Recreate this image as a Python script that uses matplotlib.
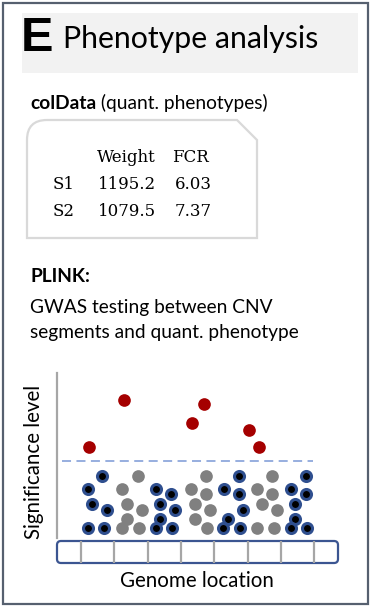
import matplotlib
matplotlib.use("Agg")
import matplotlib.pyplot as plt
from matplotlib.patches import Rectangle, FancyBboxPatch, PathPatch
from matplotlib.path import Path

# phenotype table (colData)
pheno_cols = ["Weight", "FCR"]
samples = ["S1", "S2"]
weight = ["1195.2", "1079.5"]
fcr = ["6.03", "7.37"]

# GWAS dots: genome position (segment units of 10) and significance level
sig_x = [12.4, 22.9, 43.3, 46.9, 60.4, 63.4]
sig_y = [9.4, 14.1, 11.8, 13.7, 11.1, 9.4]

cnv_x = [16.3, 12.1, 13.3, 17.8, 12.1, 16.9,
         32.5, 37.0, 33.7, 38.2, 33.7, 32.5, 37.3,
         52.9, 57.4, 57.4, 58.6, 54.1, 52.6, 57.7,
         73.0, 77.5, 77.5, 74.2, 74.2, 73.0, 77.8]
cnv_y = [6.5, 5.2, 3.7, 3.1, 1.3, 1.3,
         5.2, 4.7, 3.7, 3.1, 2.2, 1.3, 1.3,
         5.2, 6.5, 4.7, 3.1, 2.2, 1.3, 1.3,
         5.2, 6.5, 4.7, 3.7, 2.2, 1.3, 1.3]

other_x = [27.1, 22.3, 23.8, 28.3, 23.8, 22.3, 27.4,
           47.5, 43.0, 47.5, 44.2, 48.7, 44.2, 47.8,
           67.3, 62.8, 67.3, 64.3, 68.8, 62.8, 67.9]
other_y = [6.5, 5.2, 3.7, 3.1, 2.2, 1.3, 1.3,
           6.5, 5.2, 4.7, 3.7, 3.1, 2.2, 1.3,
           6.5, 5.2, 4.7, 3.7, 3.1, 1.3, 1.3]

threshold = 8.0
segment_edges = [2.8, 10, 20, 30, 40, 50, 60, 70, 80, 87.1]

W, H = 371, 610
fig = plt.figure(figsize=(W / 100, H / 100), dpi=100)

# overlay axes in pixel units for the panel decoration
ax0 = fig.add_axes([0, 0, 1, 1])
ax0.set_xlim(0, W)
ax0.set_ylim(H, 0)
ax0.axis("off")

ax0.add_patch(Rectangle((3, 3), 365, 601, fill=False, ec="#56606f", lw=1.6))
ax0.add_patch(Rectangle((22, 13), 336, 60, fc="#f2f2f2", ec="none"))
ax0.text(21, 51, "E", fontsize=35, fontweight="bold", family="Liberation Sans",
         va="baseline", ha="left")
ax0.text(63, 48, "Phenotype analysis", fontsize=21.8, family="Lato",
         va="baseline", ha="left")

body = dict(fontsize=13.8, family="Lato", va="baseline", ha="left")
t = ax0.text(30, 109, "colData", fontweight="bold", **body)
fig.canvas.draw()
bb = t.get_window_extent()
xend = ax0.transData.inverted().transform((bb.x1, bb.y0))[0]
ax0.text(xend, 109, " (quant. phenotypes)", **body)

# table box: rounded top-left, cut top-right
x0, x1, y0, y1, r, c = 27, 257, 120, 238, 20, 20
verts = [(x0, y1), (x0, y0 + r), (x0, y0), (x0 + r, y0), (x1 - c, y0),
         (x1, y0 + c), (x1, y1), (x0, y1)]
codes = [Path.MOVETO, Path.LINETO, Path.CURVE3, Path.CURVE3, Path.LINETO,
         Path.LINETO, Path.LINETO, Path.CLOSEPOLY]
ax0.add_patch(PathPatch(Path(verts, codes), fc="white", ec="#d9d9d9", lw=1.6))

tf = dict(fontsize=12, family="DejaVu Serif", va="baseline", ha="left")
ax0.text(97, 162, pheno_cols[0], **tf)
ax0.text(172, 162, pheno_cols[1], **tf)
for i, s in enumerate(samples):
    yy = 189 + 27 * i
    ax0.text(53, yy, s, **tf)
    ax0.text(98, yy, weight[i], **tf)
    ax0.text(175, yy, fcr[i], **tf)

ax0.text(30, 282, "PLINK:", fontweight="bold", **body)
ax0.text(30, 313, "GWAS testing between CNV", **body)
ax0.text(30, 338, "segments and quant. phenotype", **body)

# GWAS plot axes
ax = fig.add_axes([57 / W, 1 - 563 / H, 281 / W, 190 / H])
ax.set_xlim(segment_edges[0], segment_edges[-1])
ax.set_ylim(-2.2, 16.8)
ax.patch.set_alpha(0)
for s in ["top", "right", "bottom"]:
    ax.spines[s].set_visible(False)
ax.spines["left"].set_color("#a6a6a6")
ax.spines["left"].set_linewidth(1.6)
ax.spines["left"].set_bounds(0.3, 16.8)
ax.set_xticks([])
ax.set_yticks([])

ax.hlines(threshold, 4.3, 79.6, colors="#8fa8dc", linestyles=(0, (5, 3)), lw=1.3)
ax.scatter(other_x, other_y, s=83, c="#808080", lw=0, zorder=3)
ax.scatter(cnv_x, cnv_y, s=52, c="black", edgecolors="#2f4f8f", lw=2.2, zorder=3)
ax.scatter(sig_x, sig_y, s=83, c="#a50000", lw=0, zorder=3)

bar = FancyBboxPatch((segment_edges[0], -2.2), segment_edges[-1] - segment_edges[0], 2.2,
                     boxstyle="round,pad=0,rounding_size=1.2", mutation_aspect=0.333,
                     fc="white", ec="#3b5591", lw=1.6, clip_on=False, zorder=2)
ax.add_patch(bar)
ax.vlines(segment_edges[1:-1], -2.2, 0, colors="#a6a6a6", lw=1.6, zorder=3)

ax0.text(197, 587, "Genome location", fontsize=14.8, family="Lato",
         ha="center", va="baseline")
ax0.text(34, 462, "Significance level", fontsize=14.8, family="Lato",
         rotation=90, ha="center", va="center")

fig.savefig("out.png", dpi=100)
